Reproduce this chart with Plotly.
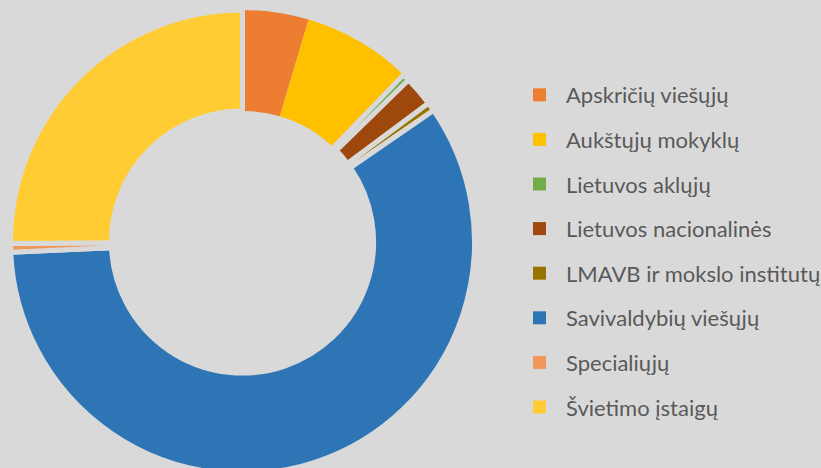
import plotly.graph_objects as go

labels = ["Apskričių viešųjų", "Aukštųjų mokyklų", "Lietuvos aklųjų", "Lietuvos nacionalinės",
          "LMAVB ir mokslo institutų", "Savivaldybių viešųjų", "Specialiųjų", "Švietimo įstaigų"]
values = [4.6, 7.6, 0.5, 2.1, 0.6, 58.9, 0.6, 25.1]
colors = ["#ED7D31", "#FFC000", "#70AD47", "#9E480E", "#997300", "#2E75B6", "#F1975A", "#FFCD33"]
line_widths = [0, 0, 5, 5, 5, 5, 5, 5]

BG = "#D9D9D9"
# viewport is 821x468; the figure is slightly larger so the donut and the legend
# run past the right/bottom edges exactly as in the reference
W, H = 840, 480

fig = go.Figure()
fig.add_trace(go.Pie(
    labels=labels, values=values, sort=False, direction="clockwise", rotation=0,
    hole=0.565, textinfo="none", hoverinfo="label+percent", showlegend=False,
    marker=dict(colors=colors, line=dict(color=BG, width=line_widths)),
    domain=dict(x=[10.5 / W, 474.5 / W], y=[6 / H, 470 / H]),
))

for i, (lab, col) in enumerate(zip(labels, colors)):
    fig.add_trace(go.Scatter(
        x=[None], y=[None], mode="markers", name=lab, legendgroup=f"g{i}",
        marker=dict(symbol="square", size=13, color=col), hoverinfo="skip",
    ))

fig.update_layout(
    width=W, height=H, paper_bgcolor=BG, plot_bgcolor=BG,
    margin=dict(l=0, r=0, t=0, b=0),
    xaxis=dict(visible=False), yaxis=dict(visible=False),
    legend=dict(x=513 / W, xanchor="left", y=1 - 74 / H, yanchor="top",
                font=dict(family="Lato", size=22, color="#595959"),
                itemwidth=43, tracegroupgap=13, bgcolor="rgba(0,0,0,0)"),
)

fig.write_html(
    "out.html",
    config={"displayModeBar": False},
    post_script=("document.body.style.margin='0';"
                 "document.body.style.overflow='hidden';"
                 "document.documentElement.style.overflow='hidden';"
                 "document.body.style.background='#D9D9D9';"),
)
